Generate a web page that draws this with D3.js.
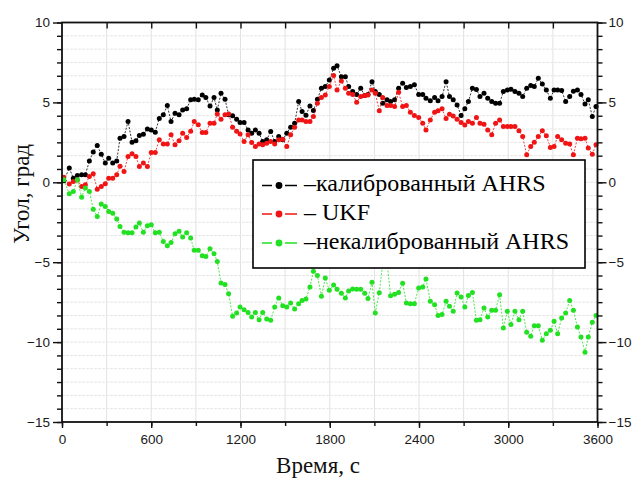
<!DOCTYPE html>
<html>
<head>
<meta charset="utf-8">
<script src="https://cdn.jsdelivr.net/npm/d3@7/dist/d3.min.js"></script>
<style>
  html, body { margin: 0; padding: 0; background: #fff; }
  svg { display: block; }
  .serif { font-family: "Liberation Serif", "Times New Roman", Times, "DejaVu Serif", serif; }
  .sans { font-family: "Liberation Sans", Arial, Helvetica, sans-serif; }
</style>
</head>
<body>
<svg id="chart" width="632" height="484"></svg>
<script>
// Sampling instants, seconds
const timeSec = [
  12, 49, 76, 103, 132, 157, 184, 210, 237, 264,
  291, 314, 341, 368, 390, 417, 444, 471, 497, 520,
  547, 574, 600, 627, 654, 681, 708, 733, 760, 787,
  811, 838, 865, 889, 916, 943, 967, 995, 1022, 1044,
  1069, 1096, 1120, 1147, 1174, 1197, 1224, 1251, 1275, 1300,
  1325, 1349, 1376, 1403, 1430, 1457, 1484, 1511, 1537, 1564,
  1591, 1614, 1640, 1667, 1690, 1717, 1744, 1770, 1797, 1826,
  1849, 1878, 1905, 1927, 1954, 1981, 2008, 2035, 2057, 2084,
  2106, 2133, 2156, 2185, 2209, 2236, 2263, 2290, 2315, 2342,
  2369, 2398, 2425, 2447, 2476, 2505, 2528, 2555, 2582, 2605,
  2630, 2656, 2683, 2708, 2732, 2759, 2786, 2810, 2837, 2862,
  2889, 2915, 2942, 2967, 2994, 3018, 3045, 3072, 3097, 3124,
  3151, 3175, 3202, 3229, 3256, 3283, 3308, 3332, 3359, 3386,
  3413, 3438, 3465, 3489, 3516, 3538, 3565, 3590
];

// Angle, degrees — calibrated AHRS
const calibratedAhrs = [
  0.1, 0.89, 0.26, 0.43, 0.47, 0.47, 1.34, 1.89, 2.3, 1.76,
  1.2, 1.51, 1.2, 1.34, 2.76, 2.86, 3.8, 2.51, 2.6, 2.93,
  3.01, 3.34, 3.28, 3.13, 4.0, 4.22, 4.8, 3.8, 4.32, 4.22,
  4.53, 4.6, 5.16, 5.2, 5.16, 5.47, 5.3, 4.78, 5.3, 4.53,
  5.57, 5.2, 4.22, 4.16, 3.95, 3.74, 3.74, 3.28, 3.07, 3.28,
  3.07, 2.55, 2.66, 3.18, 2.55, 2.86, 2.66, 3.07, 3.45, 3.7,
  5.05, 4.43, 4.2, 4.78, 4.5, 5.2, 5.89, 5.99, 6.4, 7.13,
  7.3, 6.6, 6.6, 5.99, 5.68, 5.5, 5.89, 5.43, 5.5, 6.3,
  5.68, 5.5, 4.95, 5.16, 5.05, 5.16, 5.89, 6.2, 5.93, 6.0,
  6.1, 5.5, 5.5, 5.26, 5.1, 5.3, 5.1, 5.37, 6.3, 5.37,
  5.16, 4.84, 4.18, 4.6, 5.05, 5.89, 5.8, 5.37, 5.57, 5.26,
  5.05, 4.95, 4.95, 5.68, 5.78, 5.82, 5.68, 5.57, 5.37, 5.89,
  6.05, 5.99, 6.51, 6.15, 5.78, 5.26, 5.78, 5.78, 5.74, 5.05,
  5.37, 5.7, 5.78, 5.5, 4.9, 5.16, 4.12, 4.74
];

// Angle, degrees — UKF
const ukf = [
  0.32, -0.11, 0.05, 0.15, -0.26, -0.16, 0.36, 0.53, -0.43, -0.26,
  -0.09, 0.26, 0.26, 0.47, 1.0, 0.68, 1.61, 1.78, 1.61, 0.99,
  1.2, 0.99, 1.86, 1.86, 2.66, 2.4, 2.4, 2.97, 2.35, 2.6,
  3.07, 2.8, 3.2, 3.8, 3.6, 3.11, 3.11, 3.7, 3.7, 4.28,
  3.95, 4.22, 4.28, 3.45, 3.2, 3.03, 2.55, 2.97, 2.49, 2.24,
  2.4, 2.35, 2.45, 2.55, 2.4, 2.66, 2.7, 2.24, 2.97, 3.45,
  3.9, 3.9, 3.8, 3.8, 4.12, 4.95, 5.3, 5.47, 6.0, 6.68,
  5.78, 6.34, 5.89, 5.57, 5.5, 5.01, 5.37, 5.43, 5.47, 5.78,
  5.57, 4.47, 5.3, 4.8, 4.8, 4.74, 5.63, 4.74, 4.8, 4.39,
  4.18, 4.05, 3.7, 3.28, 3.9, 4.39, 4.47, 4.6, 4.0, 4.26,
  4.15, 3.95, 3.75, 3.59, 3.8, 3.7, 4.05, 3.7, 3.64, 3.28,
  2.97, 3.7, 3.9, 3.49, 3.49, 3.49, 3.49, 3.22, 2.86, 1.72,
  2.24, 2.5, 2.86, 3.22, 2.92, 2.18, 2.24, 2.86, 2.66, 2.45,
  2.39, 1.72, 2.76, 2.72, 2.76, 2.14, 1.76, 2.35
];

// Angle, degrees — uncalibrated AHRS
const uncalibratedAhrs = [
  0.16, -0.72, -0.57, 0.16, -0.93, -0.36, -0.57, -1.68, -2.14, -1.36,
  -1.51, -1.82, -1.93, -2.3, -2.76, -3.13, -3.16, -3.16, -2.8, -2.55,
  -3.13, -2.72, -2.66, -3.16, -3.13, -3.7, -3.97, -3.76, -3.22, -3.07,
  -3.43, -3.16, -3.49, -4.26, -4.26, -4.59, -4.64, -4.16, -4.47, -4.95,
  -6.3, -6.4, -6.97, -8.39, -8.18, -7.8, -7.97, -8.14, -8.43, -8.14,
  -8.6, -8.14, -8.55, -8.64, -7.8, -7.24, -7.72, -7.8, -7.55, -7.93,
  -7.6, -7.39, -7.3, -6.55, -5.57, -5.84, -7.13, -5.99, -6.76, -6.43,
  -6.7, -6.95, -7.24, -6.8, -6.68, -6.7, -6.7, -6.95, -7.27, -6.26,
  -8.18, -6.91, -5.1, -5.0, -7.1, -7.0, -6.89, -6.32, -7.55, -7.6,
  -7.6, -6.61, -6.55, -6.05, -7.45, -7.66, -8.34, -8.28, -7.45, -7.76,
  -8.07, -6.93, -7.18, -7.8, -7.09, -6.89, -8.64, -8.6, -7.87, -8.43,
  -8.0, -8.0, -7.03, -9.12, -8.07, -8.9, -8.07, -8.6, -8.07, -9.39,
  -9.64, -8.97, -8.97, -9.89, -9.47, -9.26, -8.7, -9.47, -8.49, -8.18,
  -7.39, -8.0, -9.05, -9.68, -10.64, -9.68, -8.76, -8.34
];

const seriesNames = ["–калиброванный AHRS", "– UKF", "–некалиброванный AHRS"];
const seriesColors = ["#000000", "#f01414", "#22e022"];

const xTickLabels = [0, 600, 1200, 1800, 2400, 3000, 3600];
const yTickLabels = [-15, -10, -5, 0, 5, 10];
const xMinorTicks = d3.range(0, 3601, 300);
const yMinorTicks = d3.range(0, 31).map(i => -15 + i * 5 / 6);

const xTitle = "Время, с";
const yTitle = "Угол,  град";

// ---------------------------------------------------------------
(function draw() {
  const svg = d3.select("#chart");
  const pLeft = 62, pRight = 597.5, pTop = 22.5, pBottom = 422;

  const x = d3.scaleLinear().domain([0, 3600]).range([pLeft, pRight]);
  const y = d3.scaleLinear().domain([-15, 10]).range([pBottom, pTop]);

  // grid
  const grid = svg.append("g").attr("class", "grid");
  grid.selectAll("line.gx").data(xMinorTicks.filter(d => d > 0 && d < 3600)).join("line")
    .attr("x1", d => x(d)).attr("x2", d => x(d))
    .attr("y1", pTop).attr("y2", pBottom)
    .attr("stroke", "#e2e2e2").attr("stroke-width", 1);
  grid.selectAll("line.gy").data(yMinorTicks.filter(d => d > -15 && d < 10)).join("line")
    .attr("x1", pLeft).attr("x2", pRight)
    .attr("y1", d => y(d)).attr("y2", d => y(d))
    .attr("stroke", "#e6e6e6").attr("stroke-width", 1)
    .attr("stroke-dasharray", "3,1");

  // series
  const series = [calibratedAhrs, ukf, uncalibratedAhrs];
  const plot = svg.append("g").attr("class", "series");
  series.forEach((vals, k) => {
    const n = Math.min(vals.length, timeSec.length);
    const pts = d3.range(n).map(i => [timeSec[i], vals[i]]);
    const line = d3.line().x(d => x(d[0])).y(d => y(d[1]));
    const g = plot.append("g");
    g.append("path").datum(pts)
      .attr("d", line)
      .attr("fill", "none")
      .attr("stroke", seriesColors[k])
      .attr("stroke-width", 0.8)
      .attr("stroke-dasharray", "2,1.5");
    g.selectAll("circle").data(pts).join("circle")
      .attr("cx", d => x(d[0])).attr("cy", d => y(d[1]))
      .attr("r", 2.5)
      .attr("fill", seriesColors[k]);
  });

  // axes
  function styleAxis(g) {
    g.attr("font-family", null).attr("font-size", null);
    g.select(".domain").remove();
    g.selectAll(".tick line").attr("stroke", "#111").attr("stroke-width", 1.4);
    g.selectAll(".tick text").attr("fill", "#1a1a1a")
      .attr("class", "sans").style("font-size", "13.5px");
  }

  svg.append("g").attr("transform", `translate(0,${pBottom})`)
    .call(d3.axisBottom(x).tickValues(xMinorTicks).tickFormat("").tickSize(4))
    .call(styleAxis);
  svg.append("g").attr("transform", `translate(0,${pBottom})`)
    .call(d3.axisBottom(x).tickValues(xTickLabels).tickFormat(d3.format("d")).tickSize(6).tickPadding(6))
    .call(styleAxis);
  svg.append("g").attr("transform", `translate(0,${pTop})`)
    .call(d3.axisBottom(x).tickValues(xMinorTicks.filter(d => d > 0 && d < 3600)).tickFormat("").tickSize(6))
    .call(styleAxis);

  svg.append("g").attr("transform", `translate(${pLeft},0)`)
    .call(d3.axisLeft(y).tickValues(yMinorTicks).tickFormat("").tickSize(5))
    .call(styleAxis);
  svg.append("g").attr("transform", `translate(${pLeft},0)`)
    .call(d3.axisLeft(y).tickValues(yTickLabels).tickFormat(d3.format("d")).tickSize(9).tickPadding(3))
    .call(styleAxis);
  svg.append("g").attr("transform", `translate(${pRight},0)`)
    .call(d3.axisRight(y).tickValues(yMinorTicks).tickFormat("").tickSize(5))
    .call(styleAxis);
  svg.append("g").attr("transform", `translate(${pRight},0)`)
    .call(d3.axisRight(y).tickValues(yTickLabels).tickFormat(d3.format("d")).tickSize(9).tickPadding(2))
    .call(styleAxis);

  // frame
  svg.append("rect")
    .attr("x", pLeft).attr("y", pTop)
    .attr("width", pRight - pLeft).attr("height", pBottom - pTop)
    .attr("fill", "none").attr("stroke", "#111").attr("stroke-width", 1.8);

  // axis titles
  svg.append("text")
    .attr("class", "serif")
    .attr("x", 318).attr("y", 473)
    .attr("text-anchor", "middle")
    .style("font-size", "23px")
    .attr("fill", "#111")
    .text(xTitle);
  svg.append("text")
    .attr("class", "serif")
    .attr("transform", "translate(29,194) rotate(-90)")
    .attr("text-anchor", "middle")
    .style("font-size", "23px")
    .attr("fill", "#111")
    .text(yTitle);

  // legend
  const lg = svg.append("g").attr("class", "legend");
  lg.append("rect")
    .attr("x", 253).attr("y", 160).attr("width", 332).attr("height", 108)
    .attr("fill", "#fff").attr("stroke", "#000").attr("stroke-width", 1.6);
  const rowY = [185.5, 214, 243];
  seriesNames.forEach((name, k) => {
    const row = lg.append("g");
    row.append("line").attr("x1", 262).attr("x2", 272)
      .attr("y1", rowY[k]).attr("y2", rowY[k])
      .attr("stroke", seriesColors[k]).attr("stroke-width", 1.5);
    row.append("line").attr("x1", 285).attr("x2", 297)
      .attr("y1", rowY[k]).attr("y2", rowY[k])
      .attr("stroke", seriesColors[k]).attr("stroke-width", 1.5);
    row.append("circle").attr("cx", 279).attr("cy", rowY[k]).attr("r", 3.4)
      .attr("fill", seriesColors[k]);
    row.append("text")
      .attr("class", "serif")
      .attr("x", 304).attr("y", rowY[k] + 5.5)
      .style("font-size", "24px")
      .attr("fill", "#000")
      .text(name);
  });
})();
</script>
</body>
</html>
